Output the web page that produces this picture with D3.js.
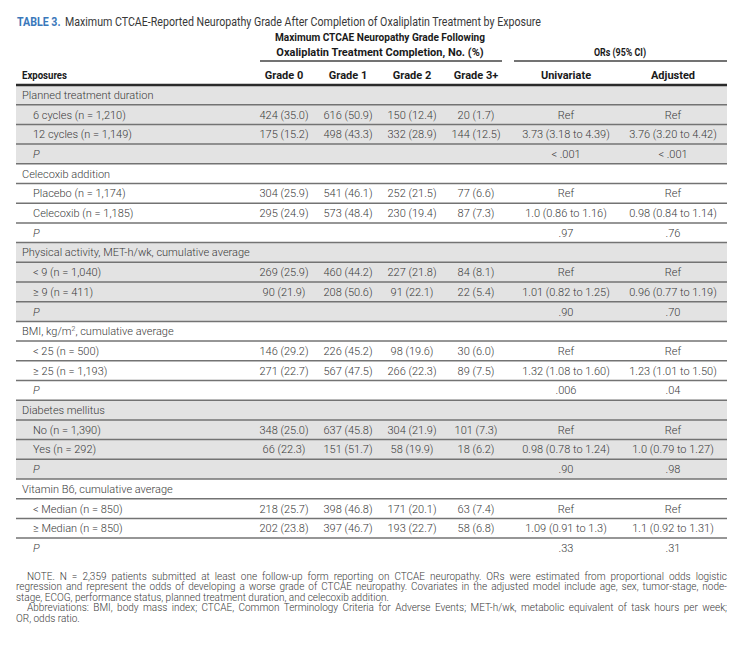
<!DOCTYPE html>
<meta charset="utf-8">
<style>
body { margin: 0; background: #fff; }
svg text { font-family: Roboto, "Liberation Sans", sans-serif; }
.title { font-size: 12px; fill: #383838; }
.title .lead { font-weight: bold; fill: #3a78bb; }
.head { font-size: 11px; font-weight: bold; fill: #1a1a1a; }
.cell { font-size: 11px; font-weight: 300; fill: #3a3a3a; }
.note { font-size: 10px; font-weight: 300; fill: #3a3a3a; }
</style>
<div id="table"></div>
<script src="https://cdnjs.cloudflare.com/ajax/libs/d3/7.8.5/d3.min.js"></script>
<script>

var titleLead = "TABLE 3.";
var titleText = "Maximum CTCAE-Reported Neuropathy Grade After Completion of Oxaliplatin Treatment by Exposure";
var groupHead1 = ["Maximum CTCAE Neuropathy Grade Following", "Oxaliplatin Treatment Completion, No. (%)"];
var groupHead2 = "ORs (95% CI)";
var columns = ["Grade 0", "Grade 1", "Grade 2", "Grade 3+", "Univariate", "Adjusted"];

var groups = ["Planned treatment duration", "Celecoxib addition",
  "Physical activity, MET-h/wk, cumulative average", "BMI, kg/m², cumulative average",
  "Diabetes mellitus", "Vitamin B6, cumulative average"];
var levels = ["6 cycles (n = 1,210)", "12 cycles (n = 1,149)",
  "Placebo (n = 1,174)", "Celecoxib (n = 1,185)",
  "< 9 (n = 1,040)", "≥ 9 (n = 411)",
  "< 25 (n = 500)", "≥ 25 (n = 1,193)",
  "No (n = 1,390)", "Yes (n = 292)",
  "< Median (n = 850)", "≥ Median (n = 850)"];
var grade0 = ["424 (35.0)", "175 (15.2)", "304 (25.9)", "295 (24.9)", "269 (25.9)", "90 (21.9)",
  "146 (29.2)", "271 (22.7)", "348 (25.0)", "66 (22.3)", "218 (25.7)", "202 (23.8)"];
var grade1 = ["616 (50.9)", "498 (43.3)", "541 (46.1)", "573 (48.4)", "460 (44.2)", "208 (50.6)",
  "226 (45.2)", "567 (47.5)", "637 (45.8)", "151 (51.7)", "398 (46.8)", "397 (46.7)"];
var grade2 = ["150 (12.4)", "332 (28.9)", "252 (21.5)", "230 (19.4)", "227 (21.8)", "91 (22.1)",
  "98 (19.6)", "266 (22.3)", "304 (21.9)", "58 (19.9)", "171 (20.1)", "193 (22.7)"];
var grade3 = ["20 (1.7)", "144 (12.5)", "77 (6.6)", "87 (7.3)", "84 (8.1)", "22 (5.4)",
  "30 (6.0)", "89 (7.5)", "101 (7.3)", "18 (6.2)", "63 (7.4)", "58 (6.8)"];
var univariate = ["Ref", "3.73 (3.18 to 4.39)", "Ref", "1.0 (0.86 to 1.16)", "Ref", "1.01 (0.82 to 1.25)",
  "Ref", "1.32 (1.08 to 1.60)", "Ref", "0.98 (0.78 to 1.24)", "Ref", "1.09 (0.91 to 1.3)"];
var adjusted = ["Ref", "3.76 (3.20 to 4.42)", "Ref", "0.98 (0.84 to 1.14)", "Ref", "0.96 (0.77 to 1.19)",
  "Ref", "1.23 (1.01 to 1.50)", "Ref", "1.0 (0.79 to 1.27)", "Ref", "1.1 (0.92 to 1.31)"];
var pUnivariate = ["< .001", ".97", ".90", ".006", ".90", ".33"];
var pAdjusted = ["< .001", ".76", ".70", ".04", ".98", ".31"];

var noteLines = [
  "NOTE. N = 2,359 patients submitted at least one follow-up form reporting on CTCAE neuropathy. ORs were estimated from proportional odds logistic",
  "regression and represent the odds of developing a worse grade of CTCAE neuropathy. Covariates in the adjusted model include age, sex, tumor-stage, node-",
  "stage, ECOG, performance status, planned treatment duration, and celecoxib addition.",
  "Abbreviations: BMI, body mass index; CTCAE, Common Terminology Criteria for Adverse Events; MET-h/wk, metabolic equivalent of task hours per week;",
  "OR, odds ratio."
];

var width = 743, height = 658;
var left = 16, right = 727;
var rowH = 19.7, tableTop = 85;

// build rows: group label, two levels, P row
var rows = [];
groups.forEach(function(g, gi) {
  rows.push({type: "group", label: g, shade: gi % 2 == 0});
  [0, 1].forEach(function(j) {
    var k = gi * 2 + j;
    rows.push({type: "level", label: levels[k], shade: gi % 2 == 0,
      cells: [grade0[k], grade1[k], grade2[k], grade3[k], univariate[k], adjusted[k]]});
  });
  rows.push({type: "p", label: "P", shade: gi % 2 == 0,
    cells: ["", "", "", "", pUnivariate[gi], pAdjusted[gi]]});
});

var y = d3.scaleBand().domain(d3.range(rows.length))
  .range([tableTop, tableTop + rows.length * rowH]);
var x = d3.scaleOrdinal().domain(columns).range([284, 348, 412, 476, 566, 673]);

var svg = d3.select("#table").append("svg")
  .attr("width", width).attr("height", height);

function fit(sel, w) {
  sel.each(function() {
    if (this.getComputedTextLength() > w)
      d3.select(this).attr("textLength", w).attr("lengthAdjust", "spacingAndGlyphs");
  });
}

// title
var title = svg.append("text").attr("class", "title").attr("x", left + 1).attr("y", 26);
title.append("tspan").attr("class", "lead").text(titleLead);
title.append("tspan").attr("dx", 5).text(titleText);
fit(title, 524);

// header
svg.selectAll("text.gh1").data(groupHead1).enter().append("text")
  .attr("class", "head gh1")
  .attr("x", 380).attr("y", (d, i) => 41 + i * 15)
  .attr("text-anchor", "middle")
  .text(d => d)
  .call(fit, 210);
svg.append("text").attr("class", "head")
  .attr("x", 620).attr("y", 56).attr("text-anchor", "middle")
  .text(groupHead2).call(fit, 52);
svg.selectAll("line.under").data([[260, 502], [514, right]]).enter().append("line")
  .attr("x1", d => d[0]).attr("x2", d => d[1])
  .attr("y1", 61).attr("y2", 61)
  .attr("stroke", "#444").attr("stroke-width", 1.5);

svg.append("text").attr("class", "head").attr("x", left + 6).attr("y", 79)
  .text("Exposures").call(fit, 45);
svg.selectAll("text.colhead").data(columns).enter().append("text")
  .attr("class", "head colhead")
  .attr("x", d => x(d)).attr("y", 79)
  .attr("text-anchor", "middle")
  .text(d => d)
  .each(function(d) { d3.select(this).call(fit, d.length * 5.6); });

// shading
svg.selectAll("rect.shade").data(rows.filter(r => r.shade)).enter().append("rect")
  .attr("x", left).attr("width", right - left)
  .attr("y", d => y(rows.indexOf(d))).attr("height", y.bandwidth())
  .attr("fill", "#e3e3e3");

// rules
svg.selectAll("line.rule").data(d3.range(1, rows.length)).enter().append("line")
  .attr("x1", left).attr("x2", right)
  .attr("y1", d => y(d)).attr("y2", d => y(d))
  .attr("stroke", "#737373").attr("stroke-width", 1.5);
svg.append("line")
  .attr("x1", left).attr("x2", right).attr("y1", tableTop).attr("y2", tableTop)
  .attr("stroke", "#2a2a2a").attr("stroke-width", 2.5);

// row labels
var rowG = svg.selectAll("g.row").data(rows).enter().append("g")
  .attr("class", "row")
  .attr("transform", (d, i) => `translate(0,${y(i) + y.bandwidth() / 2 + 4})`);

rowG.append("text").attr("class", "cell")
  .attr("x", d => d.type == "group" ? left + 6 : left + 17)
  .style("font-style", d => d.type == "p" ? "italic" : null)
  .each(function(d) {
    var t = d3.select(this);
    if (d.label.indexOf("m²") >= 0) {
      var parts = d.label.split("²");
      t.append("tspan").text(parts[0]);
      t.append("tspan").attr("dy", -4).style("font-size", "7px").text("2");
      t.append("tspan").attr("dy", 4).text(parts[1]);
    } else t.text(d.label);
  });

rowG.filter(d => d.cells).selectAll("text.val")
  .data(d => d.cells.map((v, i) => ({col: columns[i], v: v})))
  .enter().append("text")
  .attr("class", "cell val")
  .attr("x", d => x(d.col))
  .attr("text-anchor", "middle")
  .text(d => d.v);

// notes, justified
var indent = 11;
svg.selectAll("text.note").data(noteLines).enter().append("text")
  .attr("class", "note")
  .attr("x", (d, i) => (i == 0 || i == 3) ? left + indent : left)
  .attr("y", (d, i) => 580 + i * 10.4)
  .text(d => d)
  .each(function(d, i) {
    if (i == 2 || i == 4) return;
    var x0 = (i == 0 || i == 3) ? left + indent : left;
    var target = right - x0;
    var len = this.getComputedTextLength();
    var spaces = d.split(" ").length - 1;
    d3.select(this).style("word-spacing", ((target - len) / spaces) + "px");
    if (this.getComputedTextLength() > target)
      d3.select(this).style("word-spacing", null)
        .attr("textLength", target).attr("lengthAdjust", "spacingAndGlyphs");
  });

</script>
